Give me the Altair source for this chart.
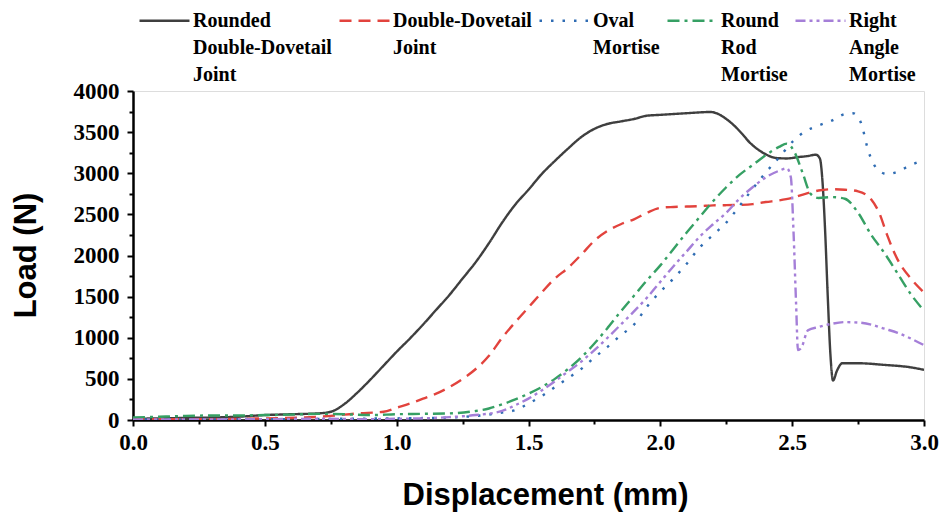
import altair as alt
import pandas as pd

# ---- data ----
names = [
    "Rounded Double-Dovetail Joint",
    "Double-Dovetail Joint",
    "Oval Mortise",
    "Round Rod Mortise",
    "Right Angle Mortise",
]

x_rdd = [0.00, 0.20, 0.40, 0.50, 0.60, 0.70, 0.75, 0.80, 0.85, 0.90, 0.95, 1.00, 1.05, 1.10, 1.15,
         1.20, 1.25, 1.30, 1.35, 1.40, 1.45, 1.50, 1.55, 1.60, 1.65, 1.70, 1.75, 1.80, 1.85, 1.90,
         1.95, 2.00, 2.05, 2.10, 2.15, 2.19, 2.22, 2.25, 2.28, 2.31, 2.34, 2.37, 2.40, 2.44, 2.48,
         2.52, 2.56, 2.59, 2.605, 2.615, 2.625, 2.635, 2.645, 2.655, 2.67, 2.69, 2.75, 2.85, 2.95, 3.00]
y_rdd = [15, 25, 40, 60, 70, 80, 100, 190, 330, 490, 660, 830, 990, 1160, 1340,
         1520, 1720, 1920, 2150, 2400, 2620, 2800, 2990, 3150, 3300, 3440, 3540, 3600, 3630, 3660,
         3700, 3710, 3720, 3730, 3740, 3745, 3720, 3660, 3580, 3480, 3370, 3290, 3230, 3185, 3180,
         3195, 3210, 3225, 3180, 2900, 2300, 1500, 800, 480, 600, 690, 690, 670, 640, 610]

x_dd = [0.0, 0.3, 0.5, 0.65, 0.75, 0.85, 0.95, 1.0, 1.05, 1.1, 1.15, 1.2, 1.25, 1.3, 1.35, 1.4,
        1.45, 1.5, 1.55, 1.6, 1.65, 1.7, 1.75, 1.8, 1.85, 1.9, 1.95, 2.0, 2.05, 2.1, 2.15, 2.2,
        2.25, 2.3, 2.35, 2.4, 2.45, 2.5, 2.55, 2.6, 2.65, 2.7, 2.75, 2.8, 2.83, 2.86, 2.9, 2.95, 3.0]
y_dd = [10, 10, 20, 30, 50, 80, 100, 150, 200, 260, 320, 400, 500, 620, 780, 1000,
        1190, 1370, 1550, 1720, 1850, 2010, 2180, 2300, 2380, 2440, 2520, 2580, 2590, 2595, 2600, 2610,
        2612, 2615, 2625, 2650, 2670, 2700, 2750, 2790, 2805, 2800, 2780, 2680, 2520, 2250, 1950, 1720, 1550]

x_oval = [0.0, 0.5, 0.8, 1.0, 1.2, 1.3, 1.4, 1.45, 1.5, 1.55, 1.6, 1.65, 1.7, 1.75, 1.8, 1.85,
          1.9, 1.95, 2.0, 2.05, 2.1, 2.15, 2.2, 2.25, 2.3, 2.35, 2.4, 2.45, 2.5, 2.55, 2.6, 2.65,
          2.7, 2.73, 2.76, 2.79, 2.82, 2.86, 2.9, 2.95, 3.0]
y_oval = [5, 10, 15, 20, 30, 50, 90, 120, 200, 290, 400, 510, 620, 760, 890, 1030,
          1160, 1380, 1560, 1720, 1900, 2100, 2250, 2400, 2600, 2810, 3010, 3190, 3380, 3510, 3580, 3640,
          3720, 3730, 3620, 3260, 3060, 2990, 3020, 3100, 3160]

x_rod = [0.0, 0.1, 0.2, 0.3, 0.4, 0.5, 0.6, 0.7, 0.8, 0.9, 1.0, 1.1, 1.2, 1.3, 1.35, 1.4,
         1.45, 1.5, 1.55, 1.6, 1.65, 1.7, 1.75, 1.8, 1.85, 1.9, 1.95, 2.0, 2.05, 2.1, 2.15, 2.2,
         2.25, 2.3, 2.35, 2.4, 2.45, 2.48, 2.51, 2.54, 2.57, 2.6, 2.65, 2.7, 2.75, 2.8, 2.85, 2.9,
         2.95, 3.0]
y_rod = [30, 40, 50, 55, 55, 60, 65, 75, 70, 60, 70, 75, 80, 110, 140, 190,
         250, 320, 400, 500, 620, 760, 930, 1120, 1320, 1510, 1700, 1880, 2080, 2280, 2470, 2660,
         2830, 2980, 3100, 3220, 3320, 3360, 3250, 3000, 2750, 2700, 2710, 2690, 2520, 2250, 2030, 1780,
         1530, 1330]

x_ra = [0.0, 0.5, 0.7, 0.9, 1.0, 1.1, 1.2, 1.3, 1.4, 1.45, 1.5, 1.55, 1.6, 1.65, 1.7, 1.75,
        1.8, 1.85, 1.9, 1.95, 2.0, 2.05, 2.1, 2.15, 2.2, 2.25, 2.3, 2.35, 2.4, 2.45, 2.48, 2.495,
        2.505, 2.515, 2.522, 2.535, 2.56, 2.6, 2.65, 2.7, 2.75, 2.8, 2.85, 2.9, 2.95, 3.0]
y_ra = [5, 10, 15, 10, 15, 20, 35, 60, 110, 180, 260, 360, 470, 590, 710, 850,
        1000, 1160, 1320, 1490, 1680, 1870, 2050, 2230, 2380, 2520, 2690, 2830, 2950, 3030, 3060, 2950,
        2300, 1400, 850, 880, 1090, 1130, 1170, 1190, 1185, 1160, 1110, 1060, 990, 910]

colors = ["#3f3f3f", "#e2433d", "#2f6cb3", "#36a064", "#a57fd8"]
dashes = [[1, 0], [12, 7], [2.5, 9], [12, 5, 3, 5], [10, 4, 3, 4, 3, 4]]

x_major = [0.0, 0.5, 1.0, 1.5, 2.0, 2.5, 3.0]
x_minor = [0.25, 0.75, 1.25, 1.75, 2.25, 2.75]
y_major = [0, 500, 1000, 1500, 2000, 2500, 3000, 3500, 4000]
y_minor = [250, 750, 1250, 1750, 2250, 2750, 3250, 3750]

series = [(names[0], x_rdd, y_rdd), (names[1], x_dd, y_dd), (names[2], x_oval, y_oval),
          (names[3], x_rod, y_rod), (names[4], x_ra, y_ra)]
rows = []
for name, xs, ys in series:
    for i, (xv, yv) in enumerate(zip(xs, ys)):
        rows.append({"series": name, "x": xv, "y": yv, "order": i})
df = pd.DataFrame(rows)

xscale = alt.Scale(domain=[0, 3], nice=False, zero=False)
yscale = alt.Scale(domain=[0, 4000], nice=False)

legend = alt.Legend(
    title=None, orient="none", legendX=5, legendY=-97, direction="horizontal", columns=5,
    symbolType="stroke", symbolSize=2500, symbolStrokeWidth=2.6,
    labelFont="Liberation Serif", labelFontWeight="bold", labelFontSize=20, labelColor="black",
    labelExpr="slice(split(datum.label + ' ', ' '), 0, 3)", labelLimit=300, labelOffset=2,
    columnPadding=2,
)

tick_font = dict(labelFont="Liberation Serif", labelFontWeight="bold", labelFontSize=23,
                 labelColor="black", tickColor="black", domainColor="black", labelFlush=False)
title_font = dict(titleFont="Liberation Sans", titleFontWeight="bold", titleFontSize=31,
                  titleColor="black")

base = alt.Chart(df)

lines = base.mark_line(strokeWidth=2.4, interpolate="monotone", clip=True).encode(
    x=alt.X("x:Q", scale=xscale,
            axis=alt.Axis(values=x_major, format=".1f", title="Displacement (mm)", grid=False,
                          tickSize=6, tickWidth=2, domainWidth=2.5, labelPadding=5,
                          titleX=412, titleY=60, titleBaseline="top", orient="bottom",
                          **tick_font, **title_font)),
    y=alt.Y("y:Q", scale=yscale,
            axis=alt.Axis(values=y_major, format="d", title="Load (N)", grid=False,
                          tickSize=6, tickWidth=2, domainWidth=2.5, labelPadding=8,
                          titleX=-98, titleY=164, titleBaseline="alphabetic", titleAngle=-90,
                          orient="left", **tick_font, **title_font)),
    color=alt.Color("series:N", scale=alt.Scale(domain=names, range=colors), legend=legend),
    strokeDash=alt.StrokeDash("series:N", scale=alt.Scale(domain=names, range=dashes), legend=legend),
    order="order:Q",
)

minor = base.mark_point(opacity=0).encode(
    x=alt.X("x:Q", scale=xscale,
            axis=alt.Axis(values=x_minor, labels=False, domain=False, grid=False, tickSize=4,
                          tickWidth=2, tickColor="black", title=None, orient="bottom")),
    y=alt.Y("y:Q", scale=yscale,
            axis=alt.Axis(values=y_minor, labels=False, domain=False, grid=False, tickSize=4,
                          tickWidth=2, tickColor="black", title=None, orient="left")),
)

chart = alt.layer(lines, minor).resolve_axis(x="independent", y="independent").properties(
    width=791, height=329,
    autosize=alt.AutoSizeParams(type="none"),
    padding={"left": 133, "top": 91, "right": 22, "bottom": 93},
).configure_view(stroke=None).configure(
    background="white",
    style={"guide-label": {"lineHeight": 27}},
)

chart.save("out.html", embed_options={"renderer": "svg", "actions": False})
